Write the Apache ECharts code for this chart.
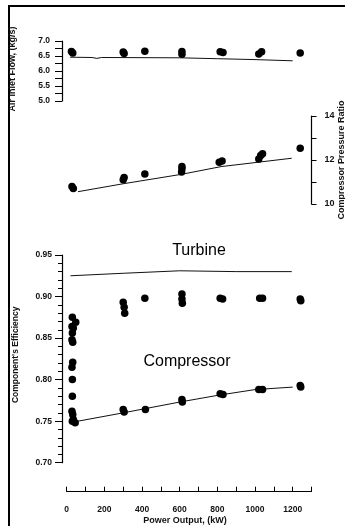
<!DOCTYPE html>
<html>
<head>
<meta charset="utf-8">
<title>Component performance vs power output</title>
<script src="https://cdn.jsdelivr.net/npm/echarts@6/dist/echarts.min.js"></script>
<style>
  html, body { margin: 0; padding: 0; background: #fff; }
  #chart { width: 345px; height: 526px; }
</style>
</head>
<body>
<div id="chart"></div>
<script>
// power output in kW, measured points are [kW, value]
var airMeasured = [[25, 6.65], [32, 6.60], [300, 6.63], [305, 6.58], [415, 6.66],
  [612, 6.65], [612, 6.56], [815, 6.64], [830, 6.62], [1020, 6.57], [1035, 6.64], [1240, 6.60]];
var airModel = [[18, 6.46], [135, 6.45], [160, 6.42], [185, 6.45], [600, 6.44],
  [800, 6.41], [1000, 6.38], [1200, 6.34]];

var pressureMeasured = [[28, 10.80], [35, 10.70], [300, 11.10], [305, 11.20], [415, 11.36],
  [610, 11.45], [612, 11.60], [612, 11.70], [810, 11.90], [825, 11.96],
  [1020, 12.05], [1030, 12.20], [1040, 12.28], [1240, 12.53]];
var pressureModel = [[60, 10.56], [300, 10.92], [610, 11.35], [820, 11.70], [1195, 12.08]];

var turbineMeasured = [[30, 0.875], [48, 0.869], [28, 0.864], [35, 0.862], [30, 0.856],
  [28, 0.848], [32, 0.845], [300, 0.893], [305, 0.887], [308, 0.880], [415, 0.898],
  [612, 0.903], [612, 0.897], [614, 0.892], [815, 0.898], [828, 0.897],
  [1025, 0.898], [1040, 0.898], [1240, 0.897], [1243, 0.895]];
var turbineModel = [[20, 0.925], [300, 0.928], [600, 0.931], [900, 0.930], [1195, 0.930]];

var compressorMeasured = [[32, 0.821], [28, 0.815], [30, 0.800], [30, 0.780], [28, 0.762],
  [32, 0.758], [35, 0.752], [30, 0.750], [45, 0.748], [300, 0.764], [305, 0.761],
  [418, 0.764], [612, 0.776], [614, 0.773], [815, 0.783], [830, 0.782],
  [1020, 0.788], [1040, 0.788], [1240, 0.793], [1243, 0.791]];
var compressorModel = [[60, 0.750], [300, 0.760], [600, 0.773], [800, 0.781], [1000, 0.788], [1200, 0.791]];

var font = '"Liberation Sans", Arial, sans-serif';
var ink = '#000';

function valueAxis(grid, extra) {
  var ax = {
    gridIndex: grid,
    type: 'value',
    nameMoveOverlap: false,
    splitLine: { show: false },
    axisLine: { show: true, onZero: false, lineStyle: { color: ink, width: 1.2 } },
    axisTick: { show: true, inside: false, length: 7, lineStyle: { color: ink, width: 1 } },
    axisLabel: { color: '#111', fontFamily: font, fontWeight: 'bold', fontSize: 8.5 },
    nameTextStyle: { color: '#111', fontFamily: font, fontWeight: 'bold', fontSize: 9 }
  };
  for (var k in extra) {
    if (typeof extra[k] === 'object' && ax[k] && !Array.isArray(extra[k])) {
      ax[k] = Object.assign({}, ax[k], extra[k]);
    } else {
      ax[k] = extra[k];
    }
  }
  return ax;
}

// hidden x axes sharing one kW scale for the three panels
function hiddenX(grid) {
  return { gridIndex: grid, type: 'value', min: -25, max: 1300, show: false };
}

function dots(x, y, data) {
  return { type: 'scatter', xAxisIndex: x, yAxisIndex: y, data: data, symbol: 'circle',
    symbolSize: 7.5, itemStyle: { color: ink, opacity: 1 }, z: 3, silent: true };
}
function curve(x, y, data) {
  return { type: 'line', xAxisIndex: x, yAxisIndex: y, data: data, showSymbol: false,
    lineStyle: { color: '#111', width: 1 }, z: 2, silent: true };
}

var chart = echarts.init(document.getElementById('chart'));
chart.setOption({
  backgroundColor: '#fff',
  animation: false,
  grid: [
    { left: 62, right: 33.5, top: 41, height: 60, outerBoundsMode: 'none' },
    { left: 62, right: 33.5, top: 116, height: 88, outerBoundsMode: 'none' },
    { left: 62, right: 33.5, top: 255, height: 207.7, outerBoundsMode: 'none' },
    { left: 66.7, right: 33.5, top: 480, height: 11.7, outerBoundsMode: 'none' }
  ],
  xAxis: [
    hiddenX(0), hiddenX(1), hiddenX(2),
    valueAxis(3, {
      min: 0, max: 1300, interval: 100,
      name: 'Power Output, (kW)', nameLocation: 'middle', nameGap: 24,
      nameTextStyle: { padding: [0, 8, 0, 0] },
      axisTick: { inside: true, length: 5 },
      axisLabel: { margin: 13, formatter: function (v) { return (v % 200 === 0 && v <= 1200) ? v : ''; } }
    })
  ],
  yAxis: [
    valueAxis(0, {
      min: 5, max: 7, interval: 0.25, position: 'left',
      name: 'Air Inlet Flow, (kg/s)', nameLocation: 'middle', nameGap: 45, nameRotate: 90,
      nameTextStyle: { padding: [0, 0, 0, 4] },
      axisLabel: { margin: 12, formatter: function (v) { return Math.round(v * 4) % 2 === 0 ? v.toFixed(1) : ''; } }
    }),
    valueAxis(1, {
      min: 10, max: 14, interval: 1, position: 'right',
      name: 'Compressor Pressure Ratio', nameLocation: 'middle', nameGap: 26, nameRotate: 90,
      axisTick: { length: 5 },
      axisLabel: { margin: 13, fontSize: 9, formatter: function (v) { return v % 2 === 0 ? v : ''; } }
    }),
    valueAxis(2, {
      min: 0.70, max: 0.95, interval: 0.05, position: 'left',
      name: "Component's Efficiency", nameLocation: 'middle', nameGap: 42, nameRotate: 90,
      nameTextStyle: { fontSize: 8.5, padding: [0, 0, 0, 8] },
      minorTick: { show: true, splitNumber: 5, length: 4, lineStyle: { color: ink, width: 1 } },
      axisLabel: { margin: 10, formatter: function (v) { return v.toFixed(2); } }
    }),
    { gridIndex: 3, type: 'value', show: false }
  ],
  graphic: [
    { type: 'polyline', shape: { points: [[9, 526], [9, 6], [345, 6]] },
      style: { stroke: ink, lineWidth: 2, fill: null } },
    { type: 'text', x: 199, y: 251,
      style: { text: 'Turbine', font: '16px ' + font, fill: ink,
        align: 'center', verticalAlign: 'middle', textAlign: 'center', textVerticalAlign: 'middle' } },
    { type: 'text', x: 187, y: 362,
      style: { text: 'Compressor', font: '16px ' + font, fill: ink,
        align: 'center', verticalAlign: 'middle', textAlign: 'center', textVerticalAlign: 'middle' } }
  ],
  series: [
    curve(0, 0, airModel), dots(0, 0, airMeasured),
    curve(1, 1, pressureModel), dots(1, 1, pressureMeasured),
    curve(2, 2, turbineModel), dots(2, 2, turbineMeasured),
    curve(2, 2, compressorModel), dots(2, 2, compressorMeasured)
  ]
});
</script>
</body>
</html>
